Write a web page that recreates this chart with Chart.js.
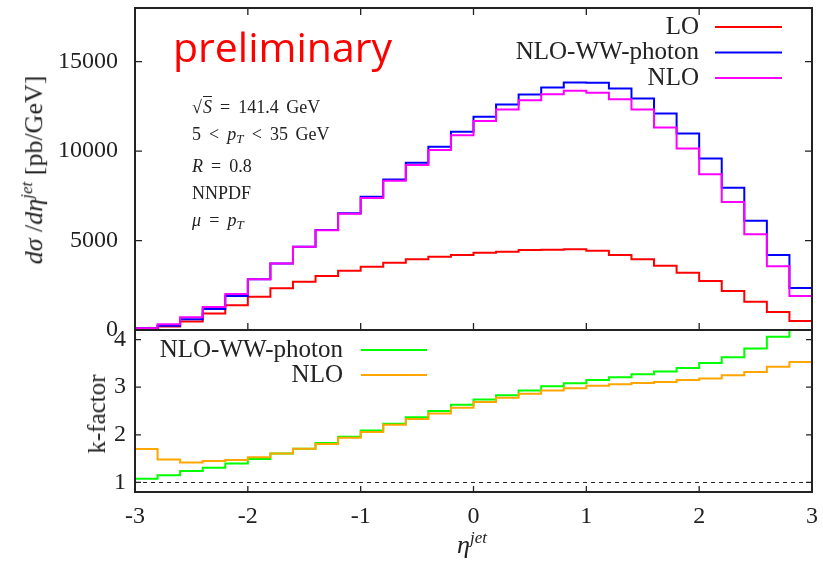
<!DOCTYPE html>
<html>
<head>
<meta charset="utf-8">
<script src="https://cdn.jsdelivr.net/npm/chart.js@4/dist/chart.umd.min.js"></script>
<style>
  html, body { margin: 0; padding: 0; background: #fff; }
  #wrap { position: relative; width: 823px; height: 563px; overflow: hidden; }
  canvas { position: absolute; left: 0; }
  #top { top: -8px; }
  #bottom { top: 310px; }
  .txt { position: absolute; font-family: 'Liberation Serif', serif; color: #222; white-space: nowrap; pointer-events: none; }
  .rot { transform: translate(-50%, -50%) rotate(-90deg); }
  #prelim { left: 173px; top: 26px; font-family: 'Open Sans', sans-serif; font-size: 41px; line-height: 1; color: #ff0000; }
  #info { left: 192px; top: 94px; font-size: 18px; line-height: 27.3px; word-spacing: 3px; }
  #info sub { font-size: 13px; vertical-align: -3px; }
  .r { margin: 0 0.45em; }
  .ov { border-top: 1px solid #222; margin-left: 1px; }
</style>
</head>
<body>
<div id="wrap">
  <canvas id="top" width="823" height="353"></canvas>
  <canvas id="bottom" width="823" height="253"></canvas>
  <div class="txt" id="prelim">preliminary</div>
  <div class="txt" id="info">
    √<span class="ov"><i>S</i></span><span class="r">=</span>141.4 GeV<br>
    5<span class="r">&lt;</span><i>p</i><sub><i>T</i></sub><span class="r">&lt;</span>35 GeV<br>
    <i>R</i><span class="r">=</span>0.8<br>
    NNPDF<br>
    <i>μ</i><span class="r">=</span><i>p</i><sub><i>T</i></sub>
  </div>
  <div class="txt rot" style="left:33px; top:170px; font-size:26px;"><i>dσ</i> /<i>dη</i><sup style="font-size:17px"><i>jet</i></sup> [pb/GeV]</div>
  <div class="txt rot" style="left:97px; top:414px; font-size:25px;">k-factor</div>
  <div class="txt" style="left:472px; top:544px; font-size:26px; transform: translate(-50%, -50%);"><i>η</i><sup style="font-size:17px"><i>jet</i></sup></div>
</div>
<script>
// bin edges in eta (30 bins of 0.2)
const etaEdges = [-3.0, -2.8, -2.6, -2.4, -2.2, -2.0, -1.8, -1.6, -1.4, -1.2, -1.0,
  -0.8, -0.6, -0.4, -0.2, 0.0, 0.2, 0.4, 0.6, 0.8, 1.0,
  1.2, 1.4, 1.6, 1.8, 2.0, 2.2, 2.4, 2.6, 2.8, 3.0];

// dsigma/deta [pb/GeV], one value per bin
const xsLO = [100, 190, 480, 920, 1380, 1860, 2330, 2700, 3020, 3310, 3540, 3760, 3950, 4100, 4190,
  4320, 4380, 4470, 4490, 4510, 4430, 4190, 3950, 3590, 3200, 2740, 2180, 1580, 1005, 503];
const xsNLOWW = [100, 242, 596, 1173, 1900, 2830, 3720, 4650, 5590, 6520, 7450, 8420, 9350, 10240, 11080,
  11920, 12610, 13160, 13560, 13838, 13820, 13500, 12945, 12100, 10990, 9590, 7950, 6110, 4190, 2347];
const xsNLO = [93, 317, 708, 1285, 2011, 2840, 3720, 4650, 5580, 6500, 7380, 8340, 9230, 10060, 10890,
  11690, 12330, 12850, 13185, 13370, 13260, 12905, 12330, 11320, 10150, 8700, 7150, 5350, 3557, 1900];

// k-factors
const kNLOWW = [1.08, 1.15, 1.24, 1.31, 1.40, 1.49, 1.61, 1.71, 1.83, 1.96, 2.09, 2.23, 2.37, 2.50, 2.63,
  2.74, 2.83, 2.93, 3.02, 3.08, 3.15, 3.21, 3.27, 3.33, 3.40, 3.51, 3.63, 3.81, 4.06, 4.6];
const kNLO = [1.70, 1.48, 1.42, 1.45, 1.47, 1.53, 1.61, 1.71, 1.81, 1.94, 2.06, 2.21, 2.33, 2.45, 2.57,
  2.69, 2.78, 2.86, 2.93, 2.98, 3.03, 3.06, 3.09, 3.11, 3.15, 3.18, 3.25, 3.32, 3.43, 3.53];
const kRefX = [-3, 3];
const kRef = [1, 1];

// tick values
const xTicks = [-3, -2, -1, 0, 1, 2, 3];
const xsTicks = [0, 5000, 10000, 15000];
const kTicks = [1, 2, 3, 4];

Chart.defaults.font.family = "'Liberation Serif', serif";
Chart.defaults.font.size = 24;
Chart.defaults.color = '#222';

// histogram steps: value of each bin placed at its left edge, last value repeated at x=3
function steps(vals) {
  return etaEdges.map((x, i) => ({ x: x, y: vals[Math.min(i, vals.length - 1)] }));
}

function line(label, vals, color, order) {
  return {
    label: label, data: steps(vals), borderColor: color, backgroundColor: color,
    borderWidth: 2, stepped: 'before', pointRadius: 0, fill: false, order: order
  };
}

// gnuplot-like frame with inward ticks
const frameTicks = {
  id: 'frameTicks',
  afterDatasetsDraw(chart, args, o) {
    const { ctx, chartArea: a, scales } = chart;
    ctx.save();
    ctx.strokeStyle = '#222';
    ctx.lineWidth = 1.3;
    ctx.beginPath();
    scales.x.ticks.forEach(t => {
      const px = scales.x.getPixelForValue(t.value);
      ctx.moveTo(px, a.bottom); ctx.lineTo(px, a.bottom - o.len);
      if (o.xTop) { ctx.moveTo(px, a.top); ctx.lineTo(px, a.top + o.len); }
    });
    scales.y.ticks.forEach(t => {
      const py = scales.y.getPixelForValue(t.value);
      ctx.moveTo(a.left, py); ctx.lineTo(a.left + o.len, py);
      ctx.moveTo(a.right, py); ctx.lineTo(a.right - o.len, py);
    });
    ctx.stroke();
    ctx.lineWidth = 2;
    ctx.strokeRect(a.left, a.top, a.right - a.left, a.bottom - a.top);
    ctx.restore();
  }
};

// legend: label text right aligned, line sample to its right
const stepLegend = {
  id: 'stepLegend',
  afterDatasetsDraw(chart, args, o) {
    const { ctx, chartArea: a } = chart;
    ctx.save();
    ctx.font = "25px 'Liberation Serif', serif";
    ctx.textAlign = 'right';
    ctx.textBaseline = 'middle';
    let row = 0;
    chart.data.datasets.forEach(ds => {
      if (!ds.label) return;
      const y = a.top + o.top + row * o.rowH;
      ctx.fillStyle = '#222';
      ctx.fillText(ds.label, a.left + o.textRight, y);
      ctx.strokeStyle = ds.borderColor;
      ctx.lineWidth = 2;
      ctx.beginPath();
      ctx.moveTo(a.left + o.lineStart, y);
      ctx.lineTo(a.left + o.lineEnd, y);
      ctx.stroke();
      row++;
    });
    ctx.restore();
  }
};

const setTicks = vals => s => { s.ticks = vals.map(v => ({ value: v })); };

const xScale = (showLabels) => ({
  type: 'linear', min: -3, max: 3,
  grid: { display: false }, border: { display: false },
  afterBuildTicks: setTicks(xTicks),
  ticks: { display: showLabels, padding: 2, maxRotation: 0, callback: v => String(v) },
  afterFit: s => { s.height = showLabels ? 40 : 0; s.paddingLeft = 0; s.paddingRight = 0; }
});

const yScale = (min, max, ticks, pad) => ({
  min: min, max: max,
  grid: { display: false }, border: { display: false },
  afterBuildTicks: setTicks(ticks),
  ticks: { padding: pad, callback: v => String(v) },
  afterFit: s => { s.width = 135; s.paddingTop = 0; s.paddingBottom = 0; }
});

new Chart(document.getElementById('top'), {
  type: 'line',
  data: {
    datasets: [
      line('LO', xsLO, '#ff0000', 2),
      line('NLO-WW-photon', xsNLOWW, '#0000ff', 1),
      line('NLO', xsNLO, '#ff00ff', 0)
    ]
  },
  options: {
    responsive: false, animation: false,
    layout: { padding: { top: 16, bottom: 15, left: 0, right: 11 } },
    plugins: {
      legend: { display: false }, tooltip: { enabled: false },
      frameTicks: { len: 7, xTop: true },
      stepLegend: { top: 19, rowH: 25.5, textRight: 564, lineStart: 580, lineEnd: 647 }
    },
    scales: {
      x: xScale(false),
      y: yScale(0, 18000, xsTicks, 9)
    }
  },
  plugins: [frameTicks, stepLegend]
});

new Chart(document.getElementById('bottom'), {
  type: 'line',
  data: {
    datasets: [
      line('NLO-WW-photon', kNLOWW, '#00ff00', 1),
      line('NLO', kNLO, '#ffa500', 0),
      {
        data: kRefX.map((x, i) => ({ x: x, y: kRef[i] })),
        borderColor: '#222', borderWidth: 1, borderDash: [4, 4], pointRadius: 0, order: 2
      }
    ]
  },
  options: {
    responsive: false, animation: false,
    layout: { padding: { top: 20, bottom: 31, left: 0, right: 11 } },
    plugins: {
      legend: { display: false }, tooltip: { enabled: false },
      frameTicks: { len: 6, xTop: false },
      stepLegend: { top: 20, rowH: 25, textRight: 208, lineStart: 226, lineEnd: 292 }
    },
    scales: {
      x: xScale(true),
      y: yScale(0.8, 4.2, kTicks, 1)
    }
  },
  plugins: [frameTicks, stepLegend]
});
</script>
</body>
</html>
